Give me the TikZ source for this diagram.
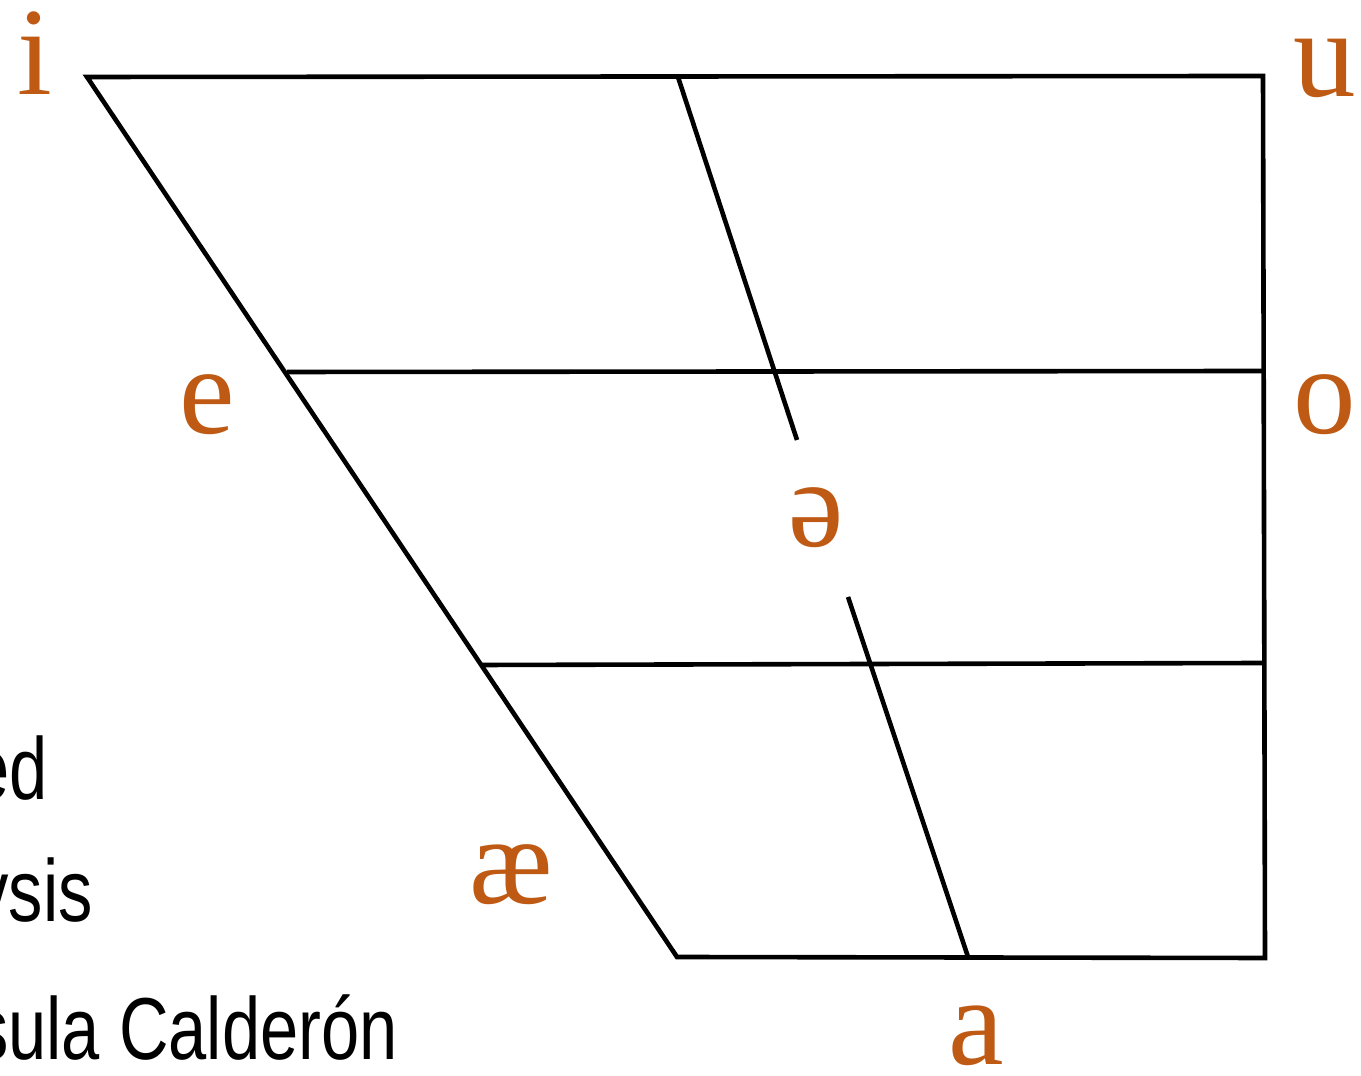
\documentclass[tikz,border=0pt]{standalone}
\usepackage{fontspec}
\usepackage{graphicx}
\setmainfont{Liberation Serif}
\newfontfamily\labelsans{Liberation Sans}
\definecolor{vowel}{RGB}{190,90,20}
\tikzset{
  chartline/.style={line width=4.6pt, black, line cap=butt, line join=miter},
  vlabel/.style={anchor=base, inner sep=0pt, text=vowel, font=\fontsize{125}{130}\selectfont},
  sidetext/.style={anchor=base east, inner sep=0pt, text=black, font=\labelsans\fontsize{88}{92}\selectfont}
}
\begin{document}
\begin{tikzpicture}[x=1pt,y=1pt]
\useasboundingbox (0,0) rectangle (1361,1076);
% corners
\coordinate (TL) at (87,999);
\coordinate (TR) at (1263,1000);
\coordinate (BR) at (1265,118);
\coordinate (BL) at (677,119);
\coordinate (M1L) at (287,704);
\coordinate (M1R) at (1263,705);
\coordinate (M2L) at (481,411);
\coordinate (M2R) at (1264,413);
\coordinate (CT) at (678,999);
\coordinate (CU) at (797,636);
\coordinate (CL) at (848,479);
\coordinate (CB) at (968,119);
% chart
\draw[chartline] (TL) -- (TR) -- (BR) -- (BL) -- cycle;
\draw[chartline] (M1L) -- (M1R);
\draw[chartline] (M2L) -- (M2R);
\draw[chartline] (CT) -- (CU);
\draw[chartline] (CL) -- (CB);
% vowel labels
\node[vlabel] (i) at (35,981) {i};
\node[vlabel] (u) at (1325,979) {u};
\node[vlabel] (e) at (207,642) {e};
\node[vlabel] (o) at (1325,642) {o};
\node[vlabel] (schwa) at (816,529) {ə};
\node[vlabel] (ae) at (511,172) {æ};
\node[vlabel] (a) at (976,11) {a};
% cut-off side text
\node[sidetext] (t1) at (48,276) {\scalebox{0.78}[1]{ed}};
\node[sidetext] (t2) at (93,154) {\scalebox{0.78}[1]{ysis}};
\node[sidetext] (t3) at (398,16) {\scalebox{0.78}[1]{sula Calderón}};
\end{tikzpicture}
\end{document}
